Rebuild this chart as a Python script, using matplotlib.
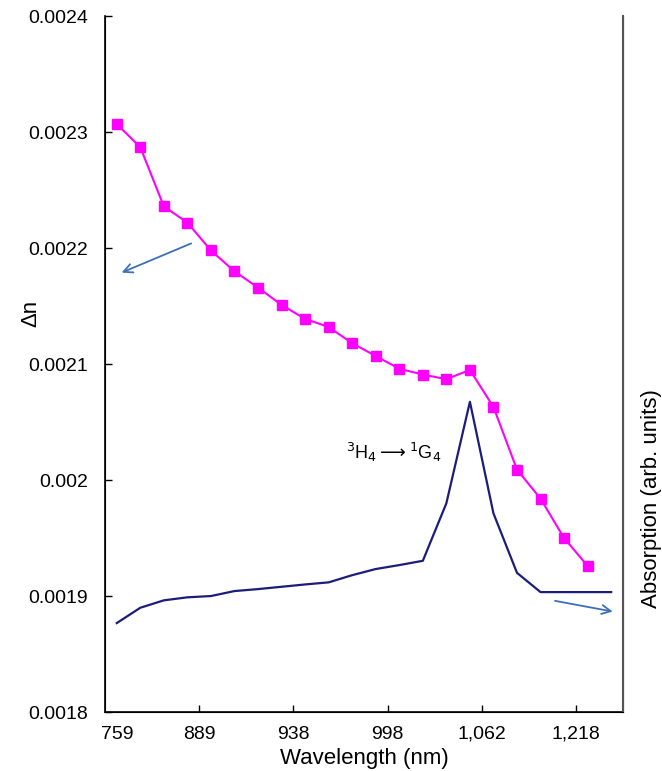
import numpy as np
import matplotlib
matplotlib.use("Agg")
import matplotlib.pyplot as plt

plt.rcParams['font.family'] = ['Liberation Sans', 'DejaVu Sans']

# refractive index change, one point per category
delta_n = np.array([
    0.002307, 0.002287, 0.002236, 0.002222, 0.002198, 0.002180, 0.002166,
    0.002151, 0.002139, 0.002132, 0.002118, 0.002107, 0.002096, 0.002091,
    0.002087, 0.002095, 0.002063, 0.002009, 0.001984, 0.001950, 0.001926,
])

# absorption (arb. units), drawn on the right axis
absorption = np.array([
    0.0018767, 0.0018899, 0.0018963, 0.0018989, 0.0019000, 0.0019043,
    0.0019060, 0.0019080, 0.0019100, 0.0019118, 0.0019180, 0.0019233,
    0.0019267, 0.0019304, 0.0019800, 0.0020675, 0.0019713, 0.0019200,
    0.0019034, 0.0019034, 0.0019034, 0.0019034,
])

tick_pos = [0, 3.5, 7.5, 11.5, 15.5, 19.5]
tick_labels = ['759', '889', '938', '998', '1,062', '1,218']
y_ticks = [0.0018, 0.0019, 0.002, 0.0021, 0.0022, 0.0023, 0.0024]
y_labels = ['0.0018', '0.0019', '0.002', '0.0021', '0.0022', '0.0023', '0.0024']

fig = plt.figure(figsize=(6.62, 7.71), dpi=100)
ax = fig.add_axes([0.1586, 0.0765, 0.7824, 0.9025])
ax2 = ax.twinx()

ax.plot(np.arange(len(delta_n)), delta_n, color='#ff00ff', linewidth=1.5,
        marker='s', markersize=7, zorder=3)
ax2.plot(np.arange(len(absorption)), absorption, color='#1c1c7a', linewidth=1.6)

ax.set_xlim(-0.5, 21.5)
ax.set_ylim(0.0018, 0.0024)
ax2.set_ylim(0.0018, 0.0024)

ax.set_yticks(y_ticks)
ax.set_yticklabels(y_labels, fontsize=14)
ax.set_xticks(tick_pos)
ax.set_xticklabels(tick_labels, fontsize=14)
ax.tick_params(axis='both', direction='in', length=5, width=1)
ax.tick_params(axis='y', pad=12)
ax.tick_params(axis='x', pad=10)
ax.xaxis.get_major_ticks()[0].tick1line.set_visible(False)
ax2.set_yticks([])

ax.spines['top'].set_visible(False)
ax2.spines['top'].set_visible(False)
ax2.spines['right'].set_color('#555555')
ax2.spines['right'].set_linewidth(1.5)
for s in ['left', 'bottom']:
    ax.spines[s].set_linewidth(1.2)

ax.set_xlabel('Wavelength (nm)', fontsize=16, labelpad=4)
fig.text(31 / 662, 1 - 313 / 771, 'Δn', rotation=90, fontsize=16,
         ha='center', va='center')
fig.text(652 / 662, 1 - 499 / 771, 'Absorption (arb. units)', rotation=90,
         fontsize=16, ha='center', va='center')

ax.text(11.78, 0.0020241, r'$^3$H$_4$$\longrightarrow$$^1$G$_4$', fontsize=13,
        ha='center', va='center')

arrow_style = dict(arrowstyle='->', color='#3b70b8', linewidth=1.3,
                   mutation_scale=16)
ax.annotate('', xy=(0.1, 0.002178), xytext=(3.27, 0.002205),
            arrowprops=arrow_style)
ax.annotate('', xy=(21.18, 0.0018862), xytext=(18.5, 0.0018963),
            arrowprops=arrow_style)

fig.savefig('out.png', dpi=100)
